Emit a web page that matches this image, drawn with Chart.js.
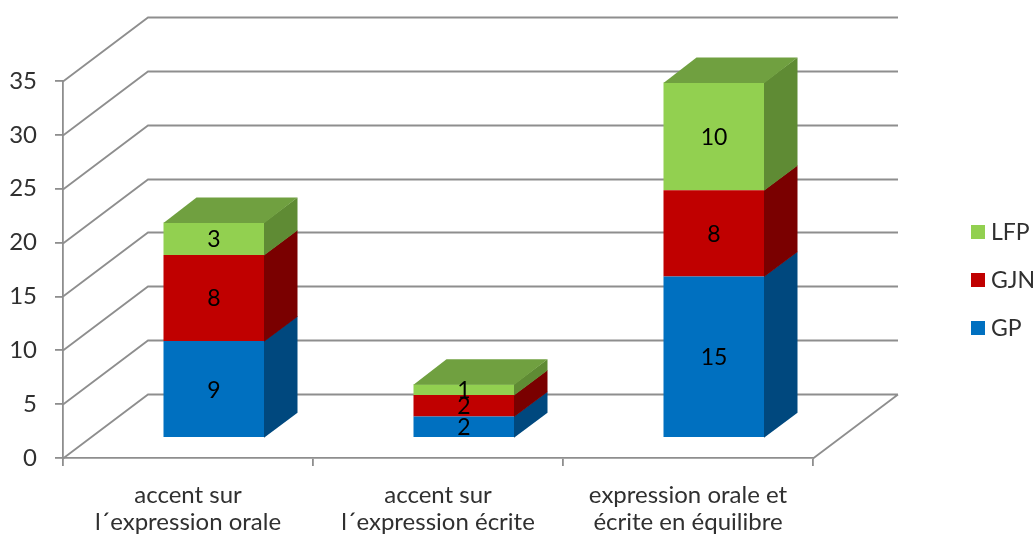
<!DOCTYPE html>
<html>
<head>
<meta charset="utf-8">
<script src="https://cdn.jsdelivr.net/npm/chart.js@4.4.1/dist/chart.umd.min.js"></script>
<style>
  html, body { margin: 0; padding: 0; background: #ffffff; }
  #wrap { width: 1035px; height: 538px; position: relative; }
</style>
</head>
<body>
<div id="wrap"><canvas id="c" width="1035" height="538"></canvas></div>
<script>
// ---- data ----
const categories = [
  ["accent sur", "l´expression orale"],
  ["accent sur", "l´expression écrite"],
  ["expression orale et", "écrite en équilibre"]
];
const seriesNames = ["GP", "GJN", "LFP"];
const gpValues  = [9, 2, 15];
const gjnValues = [8, 2, 8];
const lfpValues = [3, 1, 10];
const yTicks = [0, 5, 10, 15, 20, 25, 30, 35];

// ---- look ----
const FONT = 'Lato, "Open Sans", sans-serif';
const TEXT_COLOR = '#303030';
const GRID_COLOR = '#8e8e8e';
const frontColors = ['#0070C0', '#C00000', '#92D050'];
const sideColors  = ['#00487E', '#7A0000', '#5F8B34'];
const topColor    = '#70A040';
const WALL = { dx: 85, dy: -64 };        // depth of the side wall / floor
const SHIFT = { dx: 26, dy: -20 };       // bars sit part-way into the floor
const BAR_DEPTH = { dx: 33, dy: -25 };   // depth of each 3D bar

const seriesValues = [gpValues, gjnValues, lfpValues];

const box3d = {
  id: 'box3d',
  beforeDatasetsDraw(chart) {
    const { ctx, chartArea: a, scales: { y } } = chart;
    ctx.save();
    ctx.strokeStyle = GRID_COLOR;
    ctx.lineWidth = 1.8;
    ctx.beginPath();
    yTicks.forEach(v => {
      const py = Math.round(y.getPixelForValue(v)) + 0.5;
      ctx.moveTo(a.left, py);
      ctx.lineTo(a.left + WALL.dx, py + WALL.dy);
      ctx.lineTo(a.right + WALL.dx, py + WALL.dy);
    });
    const p0 = Math.round(y.getPixelForValue(0)) + 0.5;
    ctx.moveTo(a.right, p0);
    ctx.lineTo(a.right + WALL.dx, p0 + WALL.dy);
    ctx.stroke();
    ctx.restore();
    // bars are drawn shifted into depth
    ctx.save();
    ctx.translate(SHIFT.dx, SHIFT.dy);
  },
  afterDatasetsDraw(chart) {
    const ctx = chart.ctx;
    const n = chart.data.datasets.length;
    const bars = [];
    chart.data.datasets.forEach((ds, di) => {
      const meta = chart.getDatasetMeta(di);
      meta.data.forEach((bar, i) => {
        const p = bar.getProps(['x', 'y', 'base', 'width'], true);
        bars.push({ di, i, p });
        const l = p.x - p.width / 2, r = p.x + p.width / 2;
        const top = Math.min(p.y, p.base), bot = Math.max(p.y, p.base);
        ctx.fillStyle = sideColors[di];
        ctx.beginPath();
        ctx.moveTo(r - 0.5, top);
        ctx.lineTo(r + BAR_DEPTH.dx, top + BAR_DEPTH.dy);
        ctx.lineTo(r + BAR_DEPTH.dx, bot + BAR_DEPTH.dy + 0.6);
        ctx.lineTo(r - 0.5, bot + 0.6);
        ctx.closePath();
        ctx.fill();
        if (di === n - 1) {
          ctx.fillStyle = topColor;
          ctx.beginPath();
          ctx.moveTo(l, top + 0.5);
          ctx.lineTo(l + BAR_DEPTH.dx, top + BAR_DEPTH.dy);
          ctx.lineTo(r + BAR_DEPTH.dx, top + BAR_DEPTH.dy);
          ctx.lineTo(r, top + 0.5);
          ctx.closePath();
          ctx.fill();
        }
      });
    });
    // value labels on the front faces
    ctx.fillStyle = '#000000';
    ctx.font = '23px ' + FONT;
    ctx.textAlign = 'center';
    ctx.textBaseline = 'middle';
    bars.forEach(({ di, i, p }) => {
      const v = seriesValues[di][i];
      ctx.fillText(String(v), p.x, (p.y + p.base) / 2 + 1);
    });
    ctx.restore();
  },
  afterDraw(chart) {
    // legend, top to bottom: LFP, GJN, GP
    const ctx = chart.ctx;
    ctx.save();
    ctx.font = '23px ' + FONT;
    ctx.textBaseline = 'middle';
    ctx.textAlign = 'left';
    const rows = [232, 280, 328];
    [2, 1, 0].forEach((di, k) => {
      ctx.fillStyle = frontColors[di];
      ctx.fillRect(971, rows[k] - 7, 14, 14);
      ctx.fillStyle = TEXT_COLOR;
      ctx.fillText(seriesNames[di], 991, rows[k] + 1);
    });
    ctx.restore();
  }
};

new Chart(document.getElementById('c'), {
  type: 'bar',
  data: {
    labels: categories,
    datasets: seriesNames.map((name, di) => ({
      label: name,
      data: seriesValues[di],
      backgroundColor: frontColors[di],
      borderWidth: 0,
      barPercentage: 0.404,
      categoryPercentage: 1.0,
      clip: false
    }))
  },
  options: {
    responsive: false,
    animation: false,
    devicePixelRatio: 1,
    layout: { padding: { left: 0, top: 81, right: 222, bottom: 0 } },
    plugins: { legend: { display: false }, tooltip: { enabled: false } },
    scales: {
      x: {
        stacked: true,
        offset: true,
        grid: { display: true, drawOnChartArea: false, drawTicks: true, tickLength: 8, color: GRID_COLOR, lineWidth: 1.8, offset: true },
        border: { display: true, color: GRID_COLOR, width: 1.8 },
        ticks: { color: TEXT_COLOR, font: { family: FONT, size: 24, lineHeight: 1.125 }, padding: 16, maxRotation: 0, autoSkip: false },
        afterFit(s) { s.height = 80; }
      },
      y: {
        stacked: true,
        min: 0,
        max: 35,
        afterBuildTicks(s) { s.ticks = yTicks.map(v => ({ value: v })); },
        grid: { display: true, drawOnChartArea: false, drawTicks: true, tickLength: 8, color: GRID_COLOR, lineWidth: 1.8 },
        border: { display: true, color: GRID_COLOR, width: 1.8 },
        ticks: { color: TEXT_COLOR, font: { family: FONT, size: 24 }, padding: 18 },
        afterFit(s) { s.width = 63; }
      }
    }
  },
  plugins: [box3d]
});
</script>
</body>
</html>
